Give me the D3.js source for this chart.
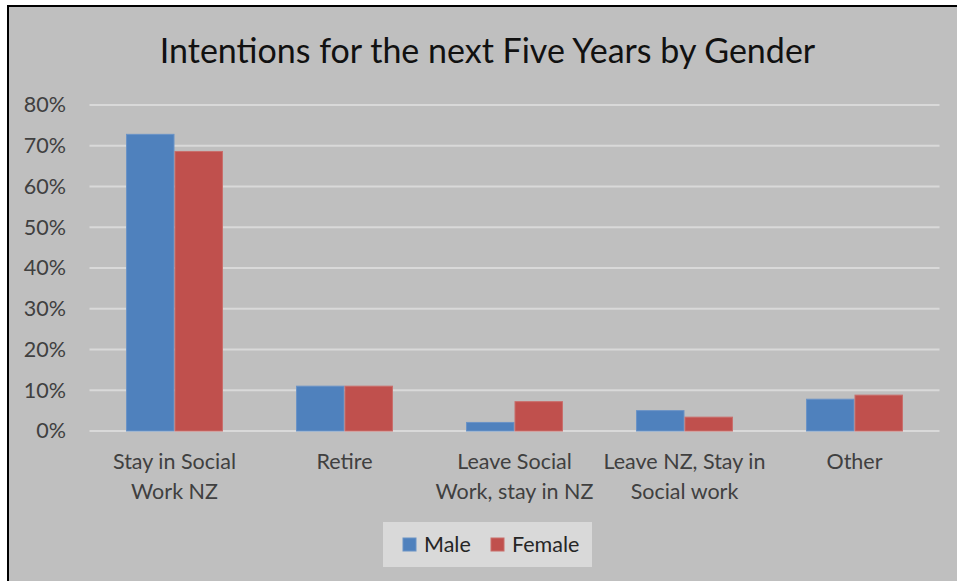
<!DOCTYPE html>
<html>
<head>
<meta charset="utf-8">
<script src="https://cdn.jsdelivr.net/npm/d3@7/dist/d3.min.js"></script>
<style>
  html, body { margin: 0; padding: 0; background: #ffffff; }
  svg { display: block; }
  text { font-family: Lato, "Open Sans", sans-serif; }
</style>
</head>
<body>
<svg id="chart" width="957" height="581"></svg>
<script>
// Survey results: share of respondents by intention, split by gender
const categories = [
  "Stay in Social Work NZ",
  "Retire",
  "Leave Social Work, stay in NZ",
  "Leave NZ, Stay in Social work",
  "Other"
];
const categoryLines = [
  ["Stay in Social", "Work NZ"],
  ["Retire"],
  ["Leave Social", "Work, stay in NZ"],
  ["Leave NZ, Stay in", "Social work"],
  ["Other"]
];
const seriesNames = ["Male", "Female"];
const maleValues   = [0.728, 0.110, 0.021, 0.050, 0.078];
const femaleValues = [0.686, 0.110, 0.072, 0.034, 0.088];
const yTicks = [0, 0.1, 0.2, 0.3, 0.4, 0.5, 0.6, 0.7, 0.8];
const titleText = "Intentions for the next Five Years by Gender";

const colors = { Male: "#4f81bd", Female: "#c0504d" };
const strokes = { Male: "#6a93c6", Female: "#c96e6b" };

const svg = d3.select("#chart");
const W = 957, H = 581;

// chart frame
svg.append("rect")
  .attr("x", 8).attr("y", 6)
  .attr("width", W).attr("height", H)
  .attr("fill", "#bfbfbf")
  .attr("stroke", "#000").attr("stroke-width", 2);

const plot = { left: 89.5, right: 939.5, top: 105, bottom: 431 };

const x = d3.scaleBand()
  .domain(categories)
  .range([plot.left, plot.right])
  .paddingInner(0.43)
  .paddingOuter(0.215);

const xs = d3.scaleBand()
  .domain(seriesNames)
  .range([0, x.bandwidth()]);

const y = d3.scaleLinear()
  .domain([0, 0.8])
  .range([plot.bottom, plot.top]);

// gridlines
svg.append("g")
  .selectAll("line")
  .data(yTicks)
  .join("line")
  .attr("x1", plot.left).attr("x2", plot.right)
  .attr("y1", d => y(d)).attr("y2", d => y(d))
  .attr("stroke", "#d9d9d9").attr("stroke-width", 2);

// y axis labels
const yAxis = d3.axisLeft(y)
  .tickValues(yTicks)
  .tickFormat(d3.format(".0%"))
  .tickSize(0)
  .tickPadding(0);
const yg = svg.append("g")
  .attr("transform", `translate(66,0)`)
  .call(yAxis);
yg.select(".domain").remove();
yg.selectAll("text")
  .attr("font-family", "Lato, sans-serif")
  .attr("font-size", 21.5)
  .attr("fill", "#404040");

// bars
const data = categories.map((c, i) => ({
  category: c,
  values: [
    { series: "Male", value: maleValues[i] },
    { series: "Female", value: femaleValues[i] }
  ]
}));

const groups = svg.append("g")
  .selectAll("g")
  .data(data)
  .join("g")
  .attr("transform", d => `translate(${x(d.category)},0)`);

groups.selectAll("rect")
  .data(d => d.values)
  .join("rect")
  .attr("x", d => xs(d.series) + 0.5)
  .attr("width", xs.bandwidth() - 1)
  .attr("y", d => y(d.value))
  .attr("height", d => y(0) - y(d.value))
  .attr("fill", d => colors[d.series])
  .attr("stroke", d => strokes[d.series])
  .attr("stroke-width", 1);

// category labels
const xl = svg.append("g")
  .selectAll("text")
  .data(categories)
  .join("text")
  .attr("text-anchor", "middle")
  .attr("font-size", 21.5)
  .attr("fill", "#404040")
  .attr("x", d => x(d) + x.bandwidth() / 2)
  .attr("y", 469);
xl.selectAll("tspan")
  .data((d, i) => categoryLines[i])
  .join("tspan")
  .attr("x", function () { return d3.select(this.parentNode).attr("x"); })
  .attr("dy", (d, i) => i === 0 ? 0 : 30)
  .text(d => d);

// title
svg.append("text")
  .attr("x", 487.5).attr("y", 63)
  .attr("text-anchor", "middle")
  .attr("font-size", 34)
  .attr("fill", "#111")
  .text(titleText);

// legend
const legend = svg.append("g");
legend.append("rect")
  .attr("x", 383).attr("y", 522)
  .attr("width", 209).attr("height", 45)
  .attr("fill", "#d9d9d9");
const legendX = [403, 491];
seriesNames.forEach((s, i) => {
  legend.append("rect")
    .attr("x", legendX[i]).attr("y", 538)
    .attr("width", 13).attr("height", 13)
    .attr("fill", colors[s])
    .attr("stroke", strokes[s]).attr("stroke-width", 1);
  legend.append("text")
    .attr("x", legendX[i] + 21).attr("y", 552)
    .attr("font-size", 21.5)
    .attr("fill", "#262626")
    .text(s);
});
</script>
</body>
</html>
